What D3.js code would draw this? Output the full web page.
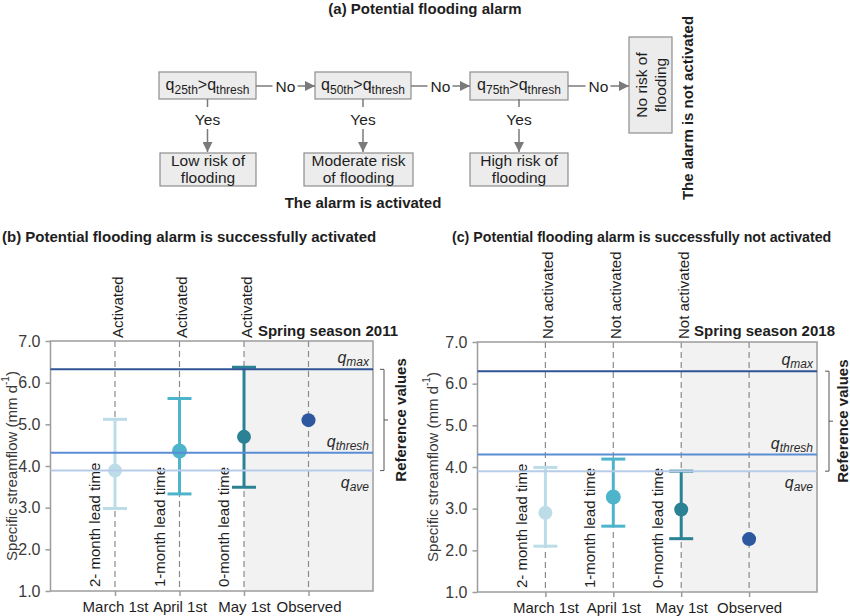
<!DOCTYPE html>
<html>
<head>
<meta charset="utf-8">
<script src="https://cdn.jsdelivr.net/npm/d3@7"></script>
<style>
  html, body { margin: 0; padding: 0; background: #fff; }
  svg { display: block; }
</style>
</head>
<body>
<script>
// ---------- DATA ----------
const categories = ["March 1st", "April 1st", "May 1st", "Observed"];
const leadLabels = ["2- month lead time", "1-month lead time", "0-month lead time"];
const yTicks = [1.0, 2.0, 3.0, 4.0, 5.0, 6.0, 7.0];
const refNames = ["max", "thresh", "ave"];

// Panel (b) Spring season 2011
const bMean = [3.89, 4.36, 4.70, 5.10];
const bLow  = [2.98, 3.33, 3.49];
const bHigh = [5.12, 5.62, 6.37];
const bRef  = [6.32, 4.32, 3.89];
const bStatus = ["Activated", "Activated", "Activated"];

// Panel (c) Spring season 2018
const cMean = [2.90, 3.28, 2.98, 2.27];
const cLow  = [2.10, 2.58, 2.28];
const cHigh = [3.99, 4.19, 3.90];
const cRef  = [6.30, 4.30, 3.90];
const cStatus = ["Not activated", "Not activated", "Not activated"];

const seriesColors = ["#bcdde8", "#4db4cc", "#2a8294", "#2d58a0"];
const refColors = ["#2f5596", "#5b8dd5", "#b7cce8"];

// ---------- SVG ----------
const FONT = "'Liberation Sans', Arial, Helvetica, sans-serif";
const svg = d3.select("body").append("svg")
  .attr("width", 850).attr("height", 616)
  .style("font-family", FONT);
svg.append("rect").attr("width", 850).attr("height", 616).attr("fill", "#fff");

const defs = svg.append("defs");
defs.append("marker").attr("id", "arr")
  .attr("viewBox", "0 0 10 10").attr("refX", 10).attr("refY", 5)
  .attr("markerUnits", "userSpaceOnUse")
  .attr("markerWidth", 10).attr("markerHeight", 10).attr("orient", "auto")
  .append("path").attr("d", "M0,0 L10,5 L0,10 Z").attr("fill", "#7a7a7a");

// ---------- PANEL (a): flow chart ----------
const A = svg.append("g");
const textCol = "#1e1e1e";
A.append("text").attr("x", 425).attr("y", 14).attr("text-anchor", "middle")
  .attr("font-weight", "bold").attr("font-size", 15).attr("fill", textCol)
  .text("(a) Potential flooding alarm");

const boxFill = "#ececec", boxStroke = "#8e8e8e", arrowCol = "#7a7a7a";
function box(x, y, w, h) {
  A.append("rect").attr("x", x).attr("y", y).attr("width", w).attr("height", h)
    .attr("fill", boxFill).attr("stroke", boxStroke).attr("stroke-width", 1.2);
}
function condText(cx, cy, sub) {
  const t = A.append("text").attr("x", cx).attr("y", cy).attr("text-anchor", "middle")
    .attr("font-size", 16).attr("fill", textCol);
  t.append("tspan").text("q");
  t.append("tspan").attr("font-size", 12).attr("dy", 4).text(sub);
  t.append("tspan").attr("dy", -4).text(">q");
  t.append("tspan").attr("font-size", 12).attr("dy", 4).text("thresh");
}
function twoLine(cx, y1, l1, l2) {
  A.append("text").attr("x", cx).attr("y", y1).attr("text-anchor", "middle")
    .attr("font-size", 15.5).attr("fill", textCol).text(l1);
  A.append("text").attr("x", cx).attr("y", y1 + 17).attr("text-anchor", "middle")
    .attr("font-size", 15.5).attr("fill", textCol).text(l2);
}
function line(x1, y1, x2, y2, arrow) {
  const l = A.append("line").attr("x1", x1).attr("y1", y1).attr("x2", x2).attr("y2", y2)
    .attr("stroke", arrowCol).attr("stroke-width", 1.5);
  if (arrow) l.attr("marker-end", "url(#arr)");
}
// condition boxes
const condBoxes = [[159, 72, 97, 27, "25th"], [315, 72, 96, 27, "50th"], [470, 72, 98, 28, "75th"]];
condBoxes.forEach(b => { box(b[0], b[1], b[2], b[3]); condText(b[0] + b[2] / 2, 90, b[4]); });
// outcome boxes
const outBoxes = [[160, 153, 96, 33, "Low risk of", "flooding"],
                  [304, 153, 109, 33, "Moderate risk", "of flooding"],
                  [470, 153, 98, 33, "High risk of", "flooding"]];
outBoxes.forEach(b => { box(b[0], b[1], b[2], b[3]); twoLine(b[0] + b[2] / 2, 165.5, b[4], b[5]); });
// No risk box
box(629, 37, 43, 96);
const nr = A.append("g").attr("transform", "translate(651,85) rotate(-90)");
nr.append("text").attr("x", 0).attr("y", -4).attr("text-anchor", "middle")
  .attr("font-size", 15.5).attr("fill", textCol).text("No risk of");
nr.append("text").attr("x", 0).attr("y", 15).attr("text-anchor", "middle")
  .attr("font-size", 15.5).attr("fill", textCol).text("flooding");

// horizontal "No" arrows
[[256, 315], [411, 470], [568, 629]].forEach(([a, b]) => {
  const m = (a + b) / 2;
  line(a, 86, m - 13, 86, false);
  line(m + 12, 86, b, 86, true);
  A.append("text").attr("x", m).attr("y", 91.5).attr("text-anchor", "middle")
    .attr("font-size", 15.5).attr("fill", textCol).text("No");
});
// vertical "Yes" arrows
[207.5, 363, 519].forEach(cx => {
  line(cx, 99, cx, 107, false);
  line(cx, 129, cx, 152, true);
  A.append("text").attr("x", cx).attr("y", 124.5).attr("text-anchor", "middle")
    .attr("font-size", 15.5).attr("fill", textCol).text("Yes");
});
A.append("text").attr("x", 363).attr("y", 208).attr("text-anchor", "middle")
  .attr("font-weight", "bold").attr("font-size", 15).attr("fill", textCol)
  .text("The alarm is activated");
A.append("text").attr("transform", "translate(687,108) rotate(-90)")
  .attr("text-anchor", "middle").attr("dominant-baseline", "central")
  .attr("font-weight", "bold").attr("font-size", 15).attr("fill", textCol)
  .text("The alarm is not activated");

// ---------- PANELS (b), (c) ----------
function panel(cfg) {
  const x = d3.scaleLinear().domain([0, 5]).range([cfg.x0, cfg.x1]);
  const y = d3.scaleLinear().domain([1, 7]).range([cfg.yb, cfg.yt]);
  const g = svg.append("g");
  const axisCol = "#9c9c9c";

  g.append("text").attr("x", cfg.titleX).attr("y", 242)
    .attr("font-weight", "bold").attr("font-size", cfg.titleSize).attr("fill", textCol)
    .text(cfg.title);

  // shaded observed region
  g.append("rect").attr("x", x(3)).attr("y", y(7))
    .attr("width", x(5) - x(3)).attr("height", y(1) - y(7)).attr("fill", "#f2f2f2");

  // dashed category lines
  g.selectAll(".dash").data(categories).join("line")
    .attr("x1", (d, i) => x(i + 1)).attr("x2", (d, i) => x(i + 1))
    .attr("y1", y(7)).attr("y2", y(1))
    .attr("stroke", "#8a8a8a").attr("stroke-width", 1.2).attr("stroke-dasharray", "6,4");

  // frame
  g.append("rect").attr("x", x(0)).attr("y", y(7))
    .attr("width", x(5) - x(0)).attr("height", y(1) - y(7))
    .attr("fill", "none").attr("stroke", axisCol).attr("stroke-width", 1.5);

  // y axis
  const ya = g.append("g").attr("transform", `translate(${x(0)},0)`)
    .call(d3.axisLeft(y).tickValues(yTicks).tickFormat(d3.format(".1f")).tickSize(5).tickPadding(5));
  ya.select(".domain").remove();
  ya.selectAll("line").attr("stroke", axisCol).attr("stroke-width", 1.5);
  ya.selectAll("text").attr("font-size", 16).attr("fill", "#3a3a3a").attr("font-family", FONT);

  // x axis
  const xa = g.append("g").attr("transform", `translate(0,${y(1)})`)
    .call(d3.axisBottom(x).tickValues([1, 2, 3, 4]).tickFormat(d => categories[d - 1]).tickSize(5).tickPadding(5));
  xa.select(".domain").remove();
  xa.selectAll("line").attr("stroke", axisCol).attr("stroke-width", 1.5);
  xa.selectAll("text").attr("font-size", 15).attr("fill", textCol).attr("font-family", FONT);

  // y axis title
  const yt = g.append("text").attr("transform", `translate(${cfg.yTitleX},${(y(1) + y(7)) / 2}) rotate(-90)`)
    .attr("text-anchor", "middle").attr("dominant-baseline", "central")
    .attr("font-size", 15).attr("fill", "#3a3a3a");
  yt.append("tspan").text("Specific streamflow (mm d");
  yt.append("tspan").attr("font-size", 10).attr("dy", -6).text("-1");
  yt.append("tspan").attr("dy", 6).text(")");

  // status labels above
  g.selectAll(".status").data(cfg.status).join("text")
    .attr("transform", (d, i) => `translate(${x(i + 1) + 2},${y(7) - 3}) rotate(-90)`)
    .attr("dominant-baseline", "central").attr("font-size", 15).attr("fill", textCol)
    .text(d => d);

  // lead time labels
  g.selectAll(".lead").data(leadLabels).join("text")
    .attr("transform", (d, i) => `translate(${x(i + 1) - cfg.leadOff},${y(1) - 4}) rotate(-90)`)
    .attr("font-size", 15).attr("fill", textCol)
    .text(d => d);

  // season label
  g.append("text").attr("x", cfg.seasonX).attr("y", 336).attr("text-anchor", "end")
    .attr("font-weight", "bold").attr("font-size", 15).attr("fill", textCol).text(cfg.season);

  // error bars
  const eb = g.selectAll(".eb").data(cfg.low).join("g");
  eb.append("line").attr("x1", (d, i) => x(i + 1)).attr("x2", (d, i) => x(i + 1))
    .attr("y1", (d, i) => y(cfg.low[i])).attr("y2", (d, i) => y(cfg.high[i]))
    .attr("stroke", (d, i) => seriesColors[i]).attr("stroke-width", 3);
  eb.append("line").attr("x1", (d, i) => x(i + 1) - 12).attr("x2", (d, i) => x(i + 1) + 12)
    .attr("y1", (d, i) => y(cfg.low[i])).attr("y2", (d, i) => y(cfg.low[i]))
    .attr("stroke", (d, i) => seriesColors[i]).attr("stroke-width", 3);
  eb.append("line").attr("x1", (d, i) => x(i + 1) - 12).attr("x2", (d, i) => x(i + 1) + 12)
    .attr("y1", (d, i) => y(cfg.high[i])).attr("y2", (d, i) => y(cfg.high[i]))
    .attr("stroke", (d, i) => seriesColors[i]).attr("stroke-width", 3);

  // points
  g.selectAll(".pt").data(cfg.mean).join("circle")
    .attr("cx", (d, i) => x(i + 1)).attr("cy", d => y(d))
    .attr("r", (d, i) => i === 1 ? 7.5 : 7)
    .attr("fill", (d, i) => seriesColors[i]);

  // reference lines
  g.selectAll(".ref").data(cfg.ref).join("line")
    .attr("x1", x(0)).attr("x2", x(5)).attr("y1", d => y(d)).attr("y2", d => y(d))
    .attr("stroke", (d, i) => refColors[i]).attr("stroke-width", 2);

  // reference labels
  refNames.forEach((nm, i) => {
    const yy = y(cfg.ref[i]) + (i === 2 ? 17 : -6);
    const t = g.append("text").attr("x", x(5) - 4).attr("y", yy).attr("text-anchor", "end")
      .attr("font-style", "italic").attr("font-size", 16).attr("fill", "#2a2a2a");
    t.append("tspan").text("q");
    t.append("tspan").attr("font-size", 12).attr("dy", 3).text(nm);
  });

  // bracket
  const bx = x(5) + cfg.brOff;
  const yTop = y(cfg.ref[0]), yBot = y(cfg.ref[2]);
  g.append("path")
    .attr("d", `M${bx},${yTop} H${bx + 4} V${yBot} H${bx} M${bx + 4},${(yTop + yBot) / 2} H${bx + 8}`)
    .attr("fill", "none").attr("stroke", "#555").attr("stroke-width", 1);
  g.append("text").attr("transform", `translate(${bx + cfg.refLabOff},${(yTop + yBot) / 2}) rotate(-90)`)
    .attr("text-anchor", "middle").attr("dominant-baseline", "central")
    .attr("font-weight", "bold").attr("font-size", 15).attr("fill", textCol).text("Reference values");
}

panel({
  x0: 50.5, x1: 373, yt: 341, yb: 591,
  title: "(b) Potential flooding alarm is successfully activated", titleX: 2, titleSize: 15,
  yTitleX: 11, season: "Spring season 2011", seasonX: 398, leadOff: 15,
  status: bStatus, mean: bMean, low: bLow, high: bHigh, ref: bRef,
  brOff: 7, refLabOff: 20
});
panel({
  x0: 477.5, x1: 817, yt: 342, yb: 592,
  title: "(c) Potential flooding alarm is successfully not activated", titleX: 452, titleSize: 14.2,
  yTitleX: 432, season: "Spring season 2018", seasonX: 835, leadOff: 18,
  status: cStatus, mean: cMean, low: cLow, high: cHigh, ref: cRef,
  brOff: 8, refLabOff: 17
});
</script>
</body>
</html>
